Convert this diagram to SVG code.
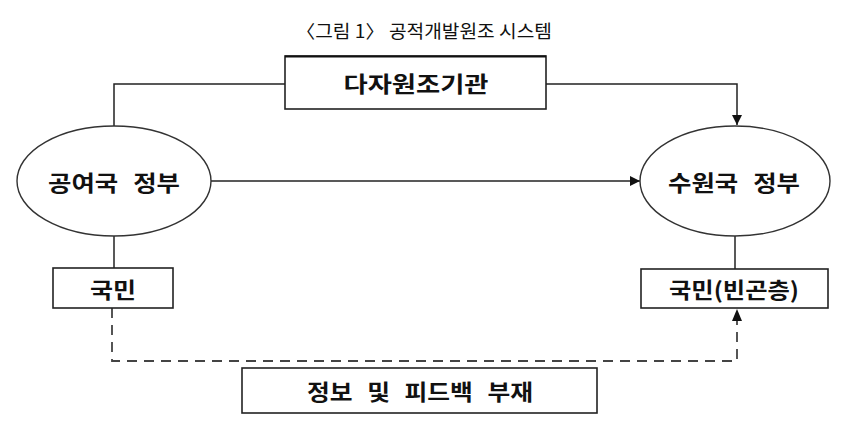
<svg xmlns="http://www.w3.org/2000/svg" width="854" height="426" viewBox="0 0 854 426">
<style>
.box{fill:#fff;stroke:#222;stroke-width:1.6}
.ell{fill:#fff;stroke:#333;stroke-width:1.4}
.ln{fill:none;stroke:#222;stroke-width:1.5}
.dash{fill:none;stroke:#444;stroke-width:1.8;stroke-dasharray:10 7}
.lbl{font-family:"Noto Sans CJK KR","Noto Sans",sans-serif;font-weight:bold;font-size:22px;fill:#111;text-anchor:middle;dominant-baseline:central}
.title{font-family:"Noto Sans CJK KR","Noto Sans",sans-serif;font-size:18px;fill:#111;text-anchor:middle;dominant-baseline:central}
</style>
<defs>
<marker id="arr" viewBox="0 0 10 10" refX="10" refY="5" markerWidth="10" markerHeight="10" markerUnits="userSpaceOnUse" orient="auto">
<path d="M0,0 L10,5 L0,10 Z" fill="#111"/>
</marker>
</defs>
<text class="title" x="424" y="30" textLength="256" lengthAdjust="spacingAndGlyphs">〈그림 1〉 공적개발원조 시스템</text>
<g id="connectors">
<path class="ln" d="M285,84 H114 V126"/>
<path class="ln" d="M546,84 H737 V125" marker-end="url(#arr)"/>
<path class="ln" d="M211,181 H640" marker-end="url(#arr)"/>
<path class="ln" d="M114,236 V268"/>
<path class="ln" d="M735,236 V269"/>
<path class="dash" d="M112,308 V361 H737 V320"/>
<path d="M732,321 L737,309 L742,321 Z" fill="#111"/>
</g>
<g id="multilateral">
<rect class="box" x="285" y="56" width="261" height="53"/>
<line x1="285" y1="56.5" x2="546" y2="56.5" stroke="#111" stroke-width="2.2"/>
<text class="lbl" x="416" y="82" font-size="24" textLength="145" lengthAdjust="spacingAndGlyphs">다자원조기관</text>
</g>
<g id="donor-gov">
<ellipse class="ell" cx="114" cy="181" rx="97" ry="55"/>
<text class="lbl" x="114" y="181" word-spacing="8" textLength="132" lengthAdjust="spacingAndGlyphs">공여국 정부</text>
</g>
<g id="recipient-gov">
<ellipse class="ell" cx="735" cy="181" rx="95" ry="55"/>
<text class="lbl" x="734" y="181" word-spacing="8" textLength="132" lengthAdjust="spacingAndGlyphs">수원국 정부</text>
</g>
<g id="donor-people">
<rect class="box" x="53" y="268" width="120" height="40"/>
<text class="lbl" x="113" y="288" textLength="46" lengthAdjust="spacingAndGlyphs">국민</text>
</g>
<g id="recipient-people">
<rect class="box" x="641" y="269" width="187" height="39"/>
<text class="lbl" x="734" y="288" textLength="130" lengthAdjust="spacingAndGlyphs">국민(빈곤층)</text>
</g>
<g id="feedback">
<rect class="box" x="242" y="368" width="355" height="45" stroke-width="2"/>
<text class="lbl" x="420" y="390" word-spacing="8" textLength="226" lengthAdjust="spacingAndGlyphs">정보 및 피드백 부재</text>
</g>
</svg>
